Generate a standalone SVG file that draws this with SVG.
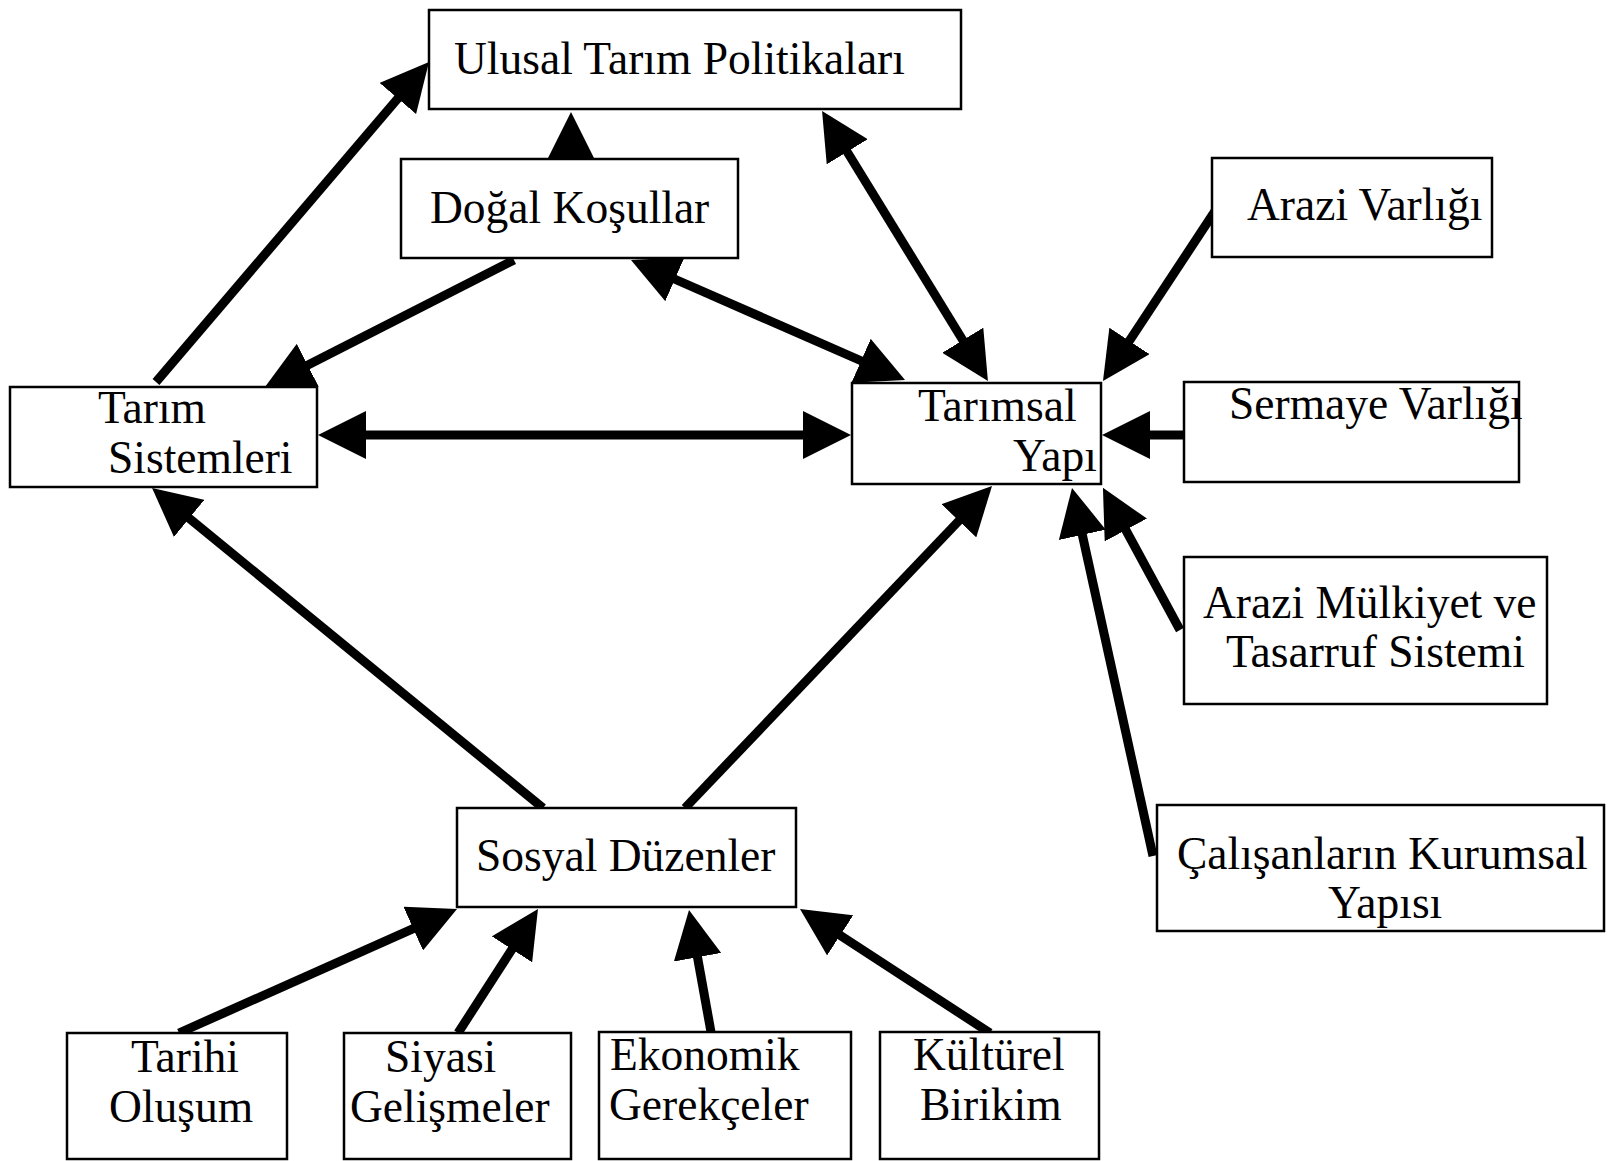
<svg xmlns="http://www.w3.org/2000/svg" width="1612" height="1161" viewBox="0 0 1612 1161">
<style>
.box{fill:#fff;stroke:#000;stroke-width:2.5}
.t{font-family:"Liberation Serif","Times New Roman",serif;font-size:45.5px;fill:#000}
.c{fill:none;stroke:#000;stroke-width:9;stroke-linecap:butt}
</style>
<defs>
<marker id="ah" markerUnits="userSpaceOnUse" viewBox="0 0 48 48" markerWidth="48" markerHeight="48" refX="8" refY="24" orient="auto-start-reverse">
<path d="M0,0 L48,24 L0,48 Z" fill="#000"/>
</marker>
</defs>
<rect width="1612" height="1161" fill="#fff"/>
<g id="connectors">
<line class="c" x1="156" y1="382" x2="403" y2="92.4" marker-end="url(#ah)"/>
<line class="c" x1="571" y1="160" x2="571" y2="152" marker-end="url(#ah)"/>
<line class="c" x1="514" y1="260" x2="300.6" y2="368.8" marker-end="url(#ah)"/>
<line class="c" x1="667.6" y1="276" x2="868.4" y2="364" marker-start="url(#ah)" marker-end="url(#ah)"/>
<line class="c" x1="843" y1="145" x2="967" y2="347" marker-start="url(#ah)" marker-end="url(#ah)"/>
<line class="c" x1="1215" y1="211" x2="1125" y2="347.6" marker-end="url(#ah)"/>
<line class="c" x1="1184" y1="435" x2="1142" y2="435" marker-end="url(#ah)"/>
<line class="c" x1="358" y1="435" x2="811" y2="435" marker-start="url(#ah)" marker-end="url(#ah)"/>
<line class="c" x1="543" y1="808" x2="183" y2="513.3" marker-end="url(#ah)"/>
<line class="c" x1="685" y1="808" x2="964.4" y2="515" marker-end="url(#ah)"/>
<line class="c" x1="1180" y1="630" x2="1122" y2="523" marker-end="url(#ah)"/>
<line class="c" x1="1153" y1="856" x2="1080.6" y2="527" marker-end="url(#ah)"/>
<line class="c" x1="179" y1="1033" x2="420.5" y2="925.3" marker-end="url(#ah)"/>
<line class="c" x1="458" y1="1033" x2="516.3" y2="942.6" marker-end="url(#ah)"/>
<line class="c" x1="711" y1="1032" x2="696.1" y2="949.4" marker-end="url(#ah)"/>
<line class="c" x1="990" y1="1033" x2="833.5" y2="930.9" marker-end="url(#ah)"/>
</g>
<g id="n-ulusal"><rect class="box" x="429" y="10" width="532" height="99"/><text class="t" x="454" y="74">Ulusal Tarım Politikaları</text></g>
<g id="n-dogal"><rect class="box" x="401" y="159" width="337" height="99"/><text class="t" x="430" y="223">Doğal Koşullar</text></g>
<g id="n-tarimsis"><rect class="box" x="10" y="387" width="307" height="100"/><text class="t" x="98" y="423">Tarım</text><text class="t" x="108" y="473">Sistemleri</text></g>
<g id="n-tarimsal"><rect class="box" x="852" y="383" width="249" height="101"/><text class="t" x="918" y="421">Tarımsal</text><text class="t" x="1013" y="471">Yapı</text></g>
<g id="n-arazi"><rect class="box" x="1212" y="158" width="280" height="99"/><text class="t" x="1247" y="220">Arazi Varlığı</text></g>
<g id="n-sermaye"><rect class="box" x="1184" y="382" width="335" height="100"/><text class="t" x="1229" y="419">Sermaye Varlığı</text></g>
<g id="n-mulkiyet"><rect class="box" x="1184" y="557" width="363" height="147"/><text class="t" x="1203" y="618">Arazi Mülkiyet ve</text><text class="t" x="1226" y="667">Tasarruf Sistemi</text></g>
<g id="n-calisan"><rect class="box" x="1157" y="805" width="447" height="126"/><text class="t" x="1177" y="869">Çalışanların Kurumsal</text><text class="t" x="1328" y="918">Yapısı</text></g>
<g id="n-sosyal"><rect class="box" x="457" y="808" width="339" height="99"/><text class="t" x="476" y="871">Sosyal Düzenler</text></g>
<g id="n-tarihi"><rect class="box" x="67" y="1033" width="220" height="126"/><text class="t" x="131" y="1072">Tarihi</text><text class="t" x="109" y="1122">Oluşum</text></g>
<g id="n-siyasi"><rect class="box" x="344" y="1033" width="227" height="126"/><text class="t" x="385" y="1072">Siyasi</text><text class="t" x="350" y="1122">Gelişmeler</text></g>
<g id="n-ekonomik"><rect class="box" x="599" y="1032" width="252" height="127"/><text class="t" x="610" y="1070">Ekonomik</text><text class="t" x="609" y="1120">Gerekçeler</text></g>
<g id="n-kultur"><rect class="box" x="880" y="1032" width="219" height="127"/><text class="t" x="913" y="1070">Kültürel</text><text class="t" x="920" y="1120">Birikim</text></g>
</svg>
